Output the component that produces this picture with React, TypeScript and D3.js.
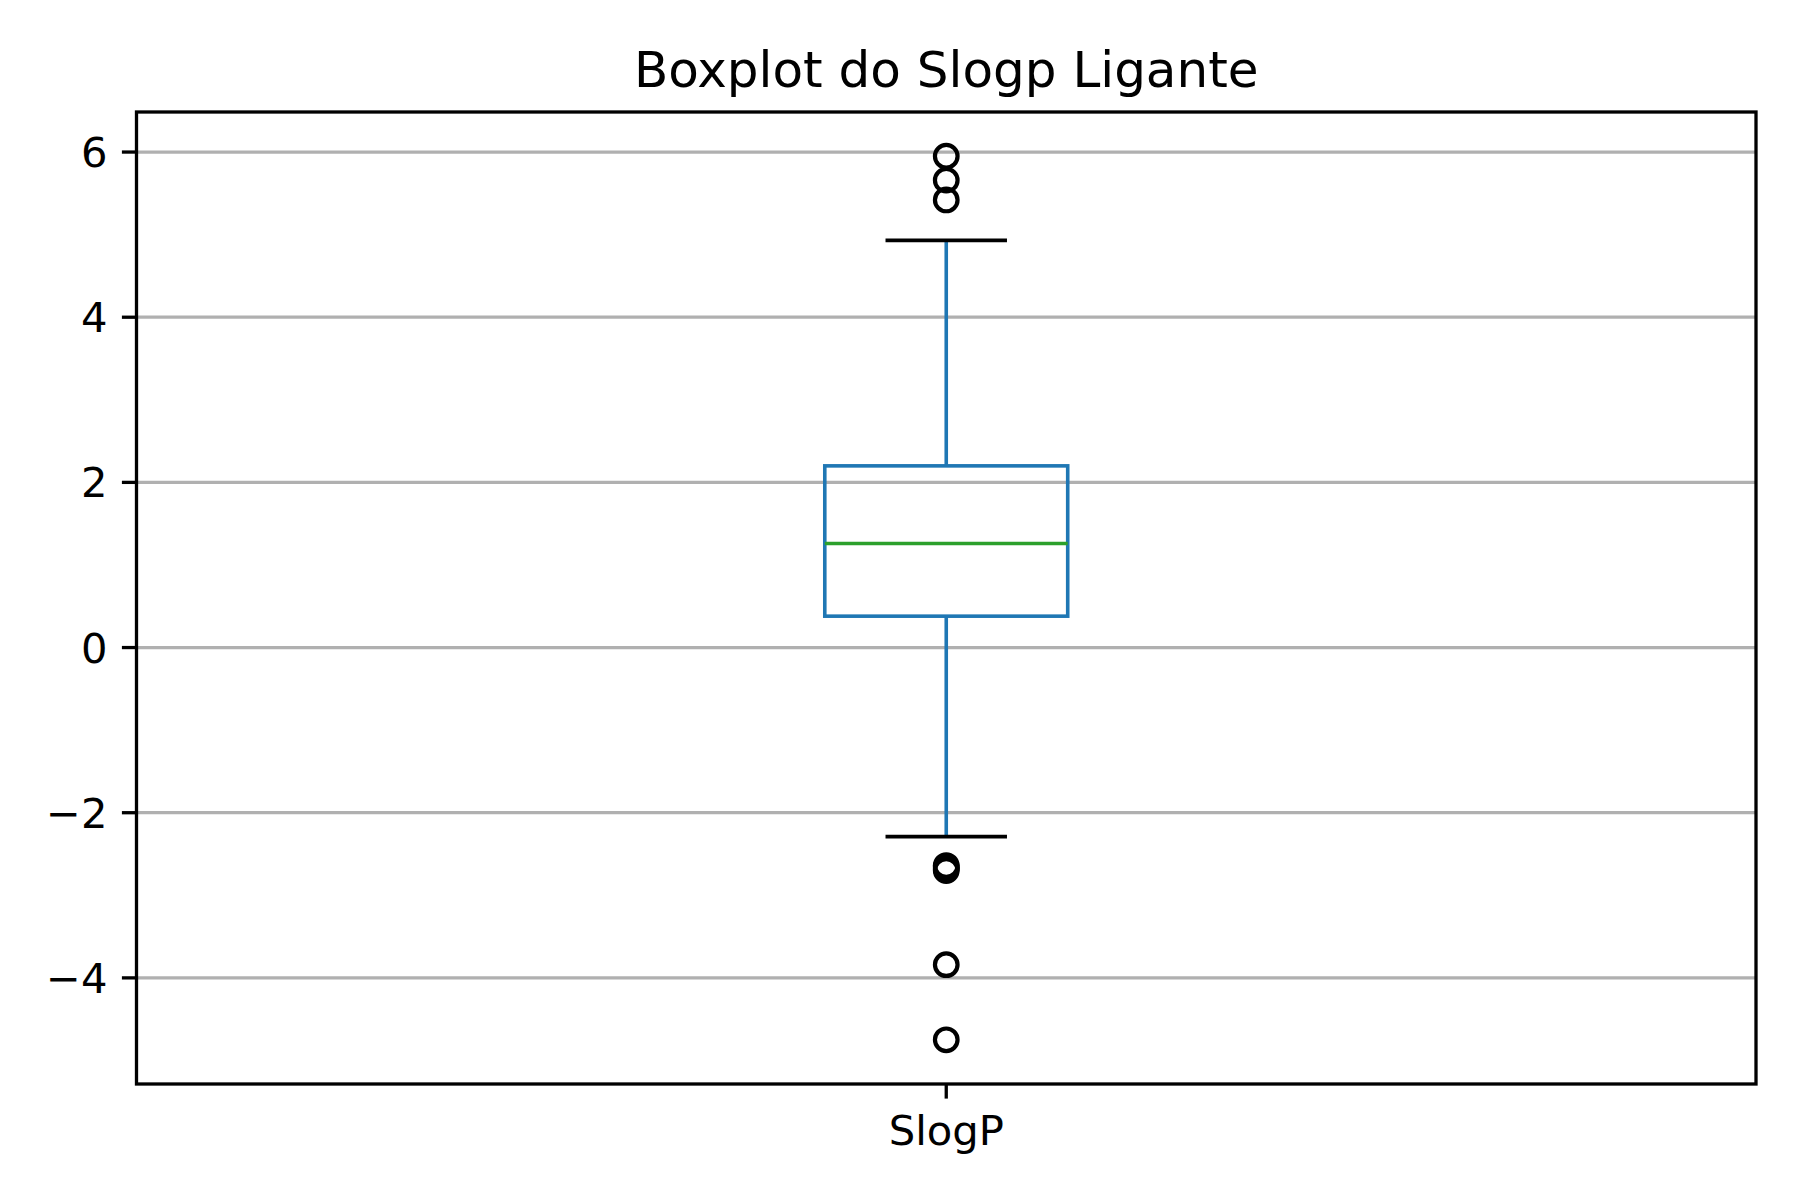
import * as d3 from "d3";
import { useEffect } from "react";

// values
const seriesName = "SlogP";
const chartTitle = "Boxplot do Slogp Ligante";
const quartiles = [0.38, 1.26, 2.2]; // q1, median, q3
const whiskers = [-2.29, 4.93]; // low, high
const outliersHigh = [5.95, 5.66, 5.42];
const outliersLow = [-2.64, -2.66, -2.68, -2.7, -3.84, -4.75];
const yTicks = [-4, -2, 0, 2, 4, 6];

const width = 1800;
const height = 1200;
const margin = { top: 112, right: 44, bottom: 116, left: 136.5 };

export default function App() {
    useEffect(() => {
        document.body.style.margin = "0";
    }, []);

    const innerW = width - margin.left - margin.right;
    const innerH = height - margin.top - margin.bottom;

    // matplotlib-like 5% padding around data extent
    const allVals = [...outliersHigh, ...outliersLow, ...whiskers];
    const lo = d3.min(allVals) as number;
    const hi = d3.max(allVals) as number;
    const pad = (hi - lo) * 0.05;

    const y = d3.scaleLinear().domain([lo - pad, hi + pad]).range([innerH, 0]);
    const x = d3.scaleLinear().domain([0.5, 1.5]).range([0, innerW]);

    const boxW = 0.15;
    const cx = x(1);
    const bx0 = x(1 - boxW / 2);
    const bx1 = x(1 + boxW / 2);
    const cx0 = x(1 - boxW / 4);
    const cx1 = x(1 + boxW / 4);

    const [q1, med, q3] = quartiles;
    const font = "'DejaVu Sans', sans-serif";
    const blue = "#1f77b4";

    return (
        <svg
            width={width}
            height={height}
            style={{ display: "block", background: "white" }}
        >
            <text
                x={margin.left + innerW / 2}
                y={87}
                textAnchor="middle"
                fontFamily={font}
                fontSize={50}
                fill="#000"
            >
                {chartTitle}
            </text>
            <g transform={`translate(${margin.left},${margin.top})`}>
                {/* y grid */}
                {yTicks.map((t) => (
                    <line
                        key={"g" + t}
                        x1={0}
                        x2={innerW}
                        y1={y(t)}
                        y2={y(t)}
                        stroke="#b0b0b0"
                        strokeWidth={3.3}
                    />
                ))}

                {/* whiskers */}
                <line x1={cx} x2={cx} y1={y(q3)} y2={y(whiskers[1])} stroke={blue} strokeWidth={3.6} />
                <line x1={cx} x2={cx} y1={y(q1)} y2={y(whiskers[0])} stroke={blue} strokeWidth={3.6} />
                {/* caps */}
                {whiskers.map((w, i) => (
                    <line key={"c" + i} x1={cx0} x2={cx1} y1={y(w)} y2={y(w)} stroke="#000" strokeWidth={3.6} />
                ))}
                {/* box */}
                <rect
                    x={bx0}
                    y={y(q3)}
                    width={bx1 - bx0}
                    height={y(q1) - y(q3)}
                    fill="none"
                    stroke={blue}
                    strokeWidth={3.6}
                />
                <line x1={bx0} x2={bx1} y1={y(med)} y2={y(med)} stroke="#2ca02c" strokeWidth={3.6} />

                {/* fliers */}
                {[...outliersHigh, ...outliersLow].map((v, i) => (
                    <circle
                        key={"o" + i}
                        cx={cx}
                        cy={y(v)}
                        r={11.3}
                        fill="none"
                        stroke="#000"
                        strokeWidth={4.2}
                    />
                ))}

                {/* y axis ticks */}
                {yTicks.map((t) => (
                    <g key={"t" + t} transform={`translate(0,${y(t)})`}>
                        <line x1={-14.6} x2={0} stroke="#000" strokeWidth={3.3} />
                        <text
                            x={-29}
                            dy="0.36em"
                            textAnchor="end"
                            fontFamily={font}
                            fontSize={41.7}
                            fill="#000"
                        >
                            {t < 0 ? "\u2212" + Math.abs(t) : String(t)}
                        </text>
                    </g>
                ))}

                {/* x axis tick */}
                <line x1={cx} x2={cx} y1={innerH} y2={innerH + 14.6} stroke="#000" strokeWidth={3.3} />
                <text
                    x={cx}
                    y={innerH + 61}
                    textAnchor="middle"
                    fontFamily={font}
                    fontSize={41.7}
                    fill="#000"
                >
                    {seriesName}
                </text>

                {/* frame */}
                <rect
                    x={0}
                    y={0}
                    width={innerW}
                    height={innerH}
                    fill="none"
                    stroke="#000"
                    strokeWidth={3.3}
                />
            </g>
        </svg>
    );
}
